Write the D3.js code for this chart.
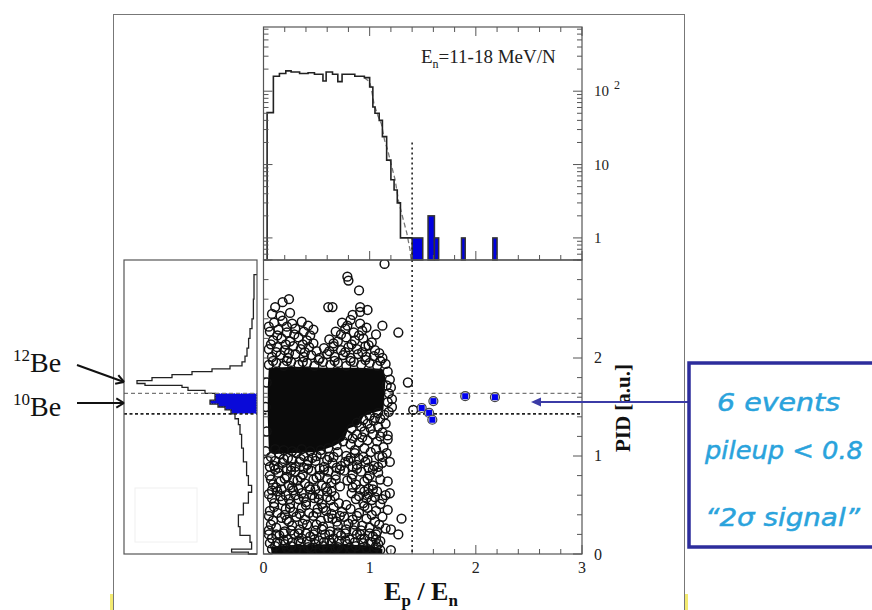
<!DOCTYPE html>
<html><head><meta charset="utf-8">
<script src="https://cdn.jsdelivr.net/npm/d3@7"></script>
<style>body{margin:0;background:#fff}svg{display:block}</style>
</head><body>
<svg id="c" width="872" height="610"></svg>
<script>
// ---------------- DATA ----------------
const topEdges  = [0.034,0.093,0.15,0.21,0.26,0.34,0.42,0.48,0.56,0.59,0.65,0.70,0.74,0.86,0.95,1.00,1.03,1.05,1.09,1.12,1.16,1.20,1.23,1.26,1.29,1.40];
const topCounts = [51,160,174,189,183,174,178,170,138,183,170,135,170,160,153,114,61,50,40,24,11.5,6.2,4.5,3,1];
const topDashX = [0.95,1.00,1.016,1.04,1.08,1.11,1.14,1.17,1.20,1.24,1.27,1.30,1.35,1.38,1.39];
const topDashC = [153,134,108,68,45,36,21.5,15.7,10.4,6.2,3.3,2.2,1.16,0.69,0.5];
const blueX0 = [1.40,1.55,1.61,1.865,2.16];
const blueX1 = [1.50,1.61,1.65,1.90,2.20];
const blueC  = [1,2,1,1,1];

const leftEdges  = [0,0.02,0.05,0.12,0.19,0.28,0.40,0.52,0.63,0.70,0.80,0.94,1.08,1.22,1.32,1.38,1.43,1.47,1.50,1.53,1.57,1.61,1.64,1.67,1.70,1.72,1.74,1.77,1.80,1.83,1.86,1.89,1.92,1.96,2.02,2.10,2.20,2.30,2.40,2.60,2.85];
const leftCounts = [43,127,27,35,85,93,68,43,27,43,52,68,77,85,93,110,130,160,195,235,210,210,260,345,375,560,600,525,425,325,225,135,75,60,50,42,35,25,18,15];
const gateLow = 1.43, gateHigh = 1.64, cutEpEn = 1.40;

const coreBand = [[0.05,1.9],[0.3,1.91],[0.6,1.9],[0.9,1.9],[1.12,1.89],[1.15,1.8],[1.14,1.62],[1.13,1.47],[1.02,1.44],[0.94,1.4],[0.9,1.32],[0.8,1.28],[0.76,1.16],[0.66,1.1],[0.5,1.04],[0.3,1.03],[0.1,1.02],[0.05,1.05],[0.04,1.4],[0.04,1.7]];
const bottomBand = [[0.08,-0.05],[1.12,-0.05],[1.12,0.05],[1.0,0.09],[0.6,0.1],[0.2,0.09],[0.07,0.07]];
const lowCloud = [
[0.08,0.05],[0.16,0.04],[0.22,0.06],[0.31,0.05],[0.38,0.03],[0.45,0.06],[0.53,0.04],[0.6,0.05],[0.68,0.06],[0.74,0.04],[0.83,0.05],[0.9,0.03],[0.97,0.06],[1.04,0.05],[1.1,0.04],
[0.06,0.11],[0.13,0.12],[0.2,0.1],[0.27,0.12],[0.35,0.11],[0.41,0.13],[0.49,0.1],[0.57,0.12],[0.64,0.11],[0.71,0.13],[0.79,0.1],[0.86,0.12],[0.94,0.11],[1.01,0.12],[1.08,0.1],
[0.08,0.16],[0.15,0.19],[0.23,0.15],[0.29,0.2],[0.36,0.16],[0.44,0.18],[0.52,0.14],[0.58,0.2],[0.66,0.16],[0.73,0.19],[0.81,0.15],[0.88,0.2],[0.95,0.16],[1.03,0.18],[1.1,0.13],
[0.05,0.24],[0.12,0.27],[0.2,0.23],[0.27,0.29],[0.34,0.25],[0.41,0.3],[0.49,0.24],[0.56,0.28],[0.63,0.23],[0.7,0.29],[0.78,0.25],[0.86,0.3],[0.92,0.24],[1.0,0.27],[1.07,0.23],[1.15,0.26],
[0.09,0.34],[0.17,0.37],[0.24,0.33],[0.31,0.38],[0.39,0.35],[0.47,0.39],[0.54,0.34],[0.61,0.37],[0.69,0.33],[0.76,0.38],[0.84,0.35],[0.97,0.36],[1.05,0.33],[1.12,0.38],
[0.06,0.44],[0.13,0.42],[0.21,0.46],[0.28,0.43],[0.36,0.47],[0.43,0.42],[0.51,0.46],[0.59,0.44],[0.66,0.48],[0.74,0.43],[0.82,0.46],[0.9,0.42],[0.98,0.47],[1.06,0.44],[1.17,0.45],
[0.1,0.52],[0.18,0.55],[0.25,0.51],[0.33,0.56],[0.4,0.53],[0.48,0.57],[0.55,0.51],[0.63,0.55],[0.71,0.52],[0.87,0.56],[0.94,0.52],[1.02,0.55],[1.1,0.51],
[0.05,0.61],[0.13,0.64],[0.21,0.6],[0.28,0.65],[0.36,0.62],[0.44,0.66],[0.52,0.61],[0.6,0.64],[0.83,0.62],[0.91,0.66],[0.99,0.61],[1.07,0.64],[1.15,0.6],
[0.09,0.71],[0.16,0.74],[0.24,0.7],[0.32,0.75],[0.39,0.72],[0.47,0.76],[0.55,0.7],[0.64,0.73],[0.72,0.69],[0.79,0.75],[0.87,0.71],[0.95,0.74],[1.03,0.7],[1.1,0.76],
[0.06,0.8],[0.14,0.83],[0.22,0.79],[0.3,0.84],[0.37,0.81],[0.45,0.85],[0.53,0.8],[0.61,0.84],[0.68,0.8],[0.76,0.85],[0.84,0.81],[0.92,0.84],[1.0,0.8],[1.08,0.83],
[0.1,0.9],[0.18,0.93],[0.26,0.89],[0.34,0.94],[0.41,0.91],[0.49,0.95],[0.57,0.89],[0.65,0.93],[0.73,0.9],[0.8,0.95],[0.88,0.91],[0.96,0.94],[1.04,0.9],[1.12,0.93],
[0.07,0.99],[0.15,1.02],[0.23,0.98],[0.31,1.03],[0.38,1.0],[0.46,0.98],[0.54,1.02],[0.62,0.99],[0.7,1.04],[0.78,1.0],[0.86,1.03],[0.94,0.99],[1.01,1.04],[1.09,1.0],[1.16,1.03]
];
const lowFill = [
[0.12,0.2],[0.26,0.24],[0.4,0.21],[0.55,0.25],[0.7,0.22],[0.85,0.24],[1.0,0.21],
[0.07,0.3],[0.22,0.35],[0.37,0.31],[0.5,0.3],[0.65,0.36],[0.8,0.31],[0.93,0.29],[1.09,0.3],
[0.1,0.48],[0.25,0.47],[0.4,0.5],[0.56,0.47],[0.78,0.5],[0.95,0.49],
[0.08,0.57],[0.3,0.6],[0.46,0.6],[0.67,0.59],[1.05,0.58],
[0.12,0.68],[0.27,0.68],[0.43,0.69],[0.59,0.68],[0.84,0.68],[0.99,0.67],
[0.11,0.86],[0.26,0.85],[0.42,0.87],[0.57,0.86],[0.72,0.86],[0.88,0.87],[1.03,0.86],
[0.11,0.95],[0.27,0.96],[0.42,0.95],[0.6,0.96],[0.77,0.94],[0.9,0.97]
];
const lowFill2 = [
[0.11,0.08],[0.26,0.08],[0.42,0.07],[0.56,0.08],[0.7,0.07],[0.87,0.08],[1.06,0.08],
[0.19,0.14],[0.33,0.14],[0.48,0.15],[0.62,0.14],[0.77,0.14],[0.92,0.15],[1.06,0.15],
[0.05,0.2],[0.19,0.21],[0.33,0.21],[0.47,0.2],[0.62,0.2],[0.77,0.21],[0.91,0.2],[1.06,0.2],
[0.05,0.39],[0.2,0.4],[0.34,0.41],[0.5,0.42],[0.64,0.41],[0.72,0.39],[0.88,0.39],[1.02,0.4],
[0.16,0.59],[0.24,0.56],[0.38,0.57],[0.52,0.56],[0.6,0.58],[0.9,0.59],[0.97,0.57],[1.12,0.56],
[0.08,0.65],[0.17,0.66],[0.33,0.67],[0.49,0.66],[0.64,0.64],[0.95,0.64],[1.03,0.66],
[0.07,0.76],[0.2,0.77],[0.28,0.75],[0.35,0.78],[0.5,0.78],[0.6,0.77],[0.68,0.76],[0.83,0.77],[0.98,0.77],
[0.06,0.89],[0.14,0.88],[0.22,0.87],[0.3,0.89],[0.38,0.88],[0.53,0.87],[0.69,0.88],[0.84,0.89],[0.99,0.88],[1.08,0.89],
[0.04,0.95],[0.19,0.97],[0.35,0.97],[0.5,1.0],[0.66,0.99],[0.82,0.98],[0.98,0.96],[1.12,0.99]
];
const midEdge = [[1.17,1.86],[1.19,1.78],[1.16,1.72],[1.2,1.7],[1.18,1.64],[1.21,1.58],[1.17,1.55],[1.21,1.5],[1.18,1.45],[1.14,1.42],[1.1,1.38],[1.04,1.36],[1.15,1.33],[1.08,1.3],[0.98,1.33],[0.92,1.3],[1.12,1.24],[1.03,1.22],[0.95,1.25],[0.88,1.22],[1.17,1.17],[1.07,1.15],[0.98,1.16],[0.9,1.14],[0.82,1.12],[1.13,1.09],[0.86,1.06],[0.95,1.08],[1.06,1.07],[0.02,1.5],[0.03,1.25],[0.03,1.75],[0.02,1.05],
[1.08,1.44],[1.0,1.41],[0.94,1.37],[0.88,1.34],[0.83,1.28],[0.79,1.21],[0.75,1.15],[0.69,1.11],[0.61,1.08],[0.54,1.06],[0.44,1.05],[0.36,1.07],[0.27,1.05],[0.19,1.06],[0.11,1.07],[0.84,1.18],[0.93,1.19],[1.01,1.28],[1.1,1.2],[1.05,1.39]];
const topCloud = [
[0.05,1.93],[0.12,1.95],[0.19,1.92],[0.26,1.96],[0.33,1.93],[0.41,1.95],[0.48,1.92],[0.56,1.96],[0.63,1.93],[0.7,1.95],[0.78,1.92],[0.85,1.96],[0.92,1.93],[1.0,1.95],[1.07,1.92],[1.15,1.94],
[0.08,2.01],[0.16,2.03],[0.23,2.0],[0.3,2.04],[0.38,2.01],[0.45,2.03],[0.53,2.0],[0.6,2.04],[0.67,2.01],[0.75,2.03],[0.82,2.0],[0.89,2.04],[0.97,2.01],[1.04,2.02],[1.12,2.0],
[0.05,2.09],[0.13,2.11],[0.2,2.08],[0.28,2.12],[0.35,2.09],[0.43,2.11],[0.57,2.1],[0.66,2.12],[0.73,2.08],[0.8,2.11],[0.88,2.09],[0.96,2.12],[1.05,2.08],
[0.09,2.18],[0.17,2.2],[0.25,2.17],[0.33,2.21],[0.41,2.18],[0.62,2.19],[0.7,2.17],[0.78,2.21],[0.86,2.18],[0.94,2.2],[1.02,2.16],
[0.06,2.27],[0.14,2.29],[0.22,2.26],[0.3,2.3],[0.38,2.27],[0.47,2.29],[0.68,2.27],[0.77,2.3],[0.85,2.26],[0.93,2.28],[1.12,2.33],
[0.1,2.36],[0.18,2.38],[0.27,2.35],[0.36,2.37],[0.74,2.36],[0.82,2.39],[0.91,2.35],
[0.08,2.45],[0.16,2.43],[0.25,2.46],[0.84,2.44],[0.91,2.47]
];
const topFill = [
[0.09,1.97],[0.22,1.97],[0.37,1.96],[0.52,1.98],[0.67,1.97],[0.82,1.97],[0.96,1.98],[1.1,1.97],
[0.12,2.06],[0.24,2.05],[0.39,2.06],[0.5,2.07],[0.62,2.07],[0.77,2.06],[0.93,2.06],[1.09,2.05],
[0.07,2.14],[0.21,2.14],[0.37,2.14],[0.47,2.15],[0.66,2.15],[0.83,2.14],[0.99,2.13],
[0.13,2.23],[0.29,2.24],[0.44,2.23],[0.73,2.24],[0.9,2.23],[1.06,2.24],
[0.05,2.32],[0.22,2.32],[0.42,2.33],[0.79,2.33],[0.97,2.31]
];
const outliers = [[1.14,2.96],[0.79,2.83],[0.8,2.79],[0.9,2.69],[0.11,2.52],[0.18,2.57],[0.24,2.6],[0.61,2.52],[0.65,2.52],[0.91,2.52],[0.98,2.49],[1.27,2.26],[1.36,1.75],[1.41,1.47],[1.2,0.04],[1.2,0.25],[1.27,0.2],[1.3,0.36],[1.19,0.62],[1.17,0.74],[1.19,0.94],[1.17,1.21]];
const sigX   = [1.49,1.56,1.59,1.60,1.90,2.18];
const sigPID = [1.49,1.44,1.37,1.56,1.61,1.60];

// ---------------- DRAW ----------------
const svg = d3.select("#c");
const serif = "'Liberation Serif','Times New Roman',serif";

svg.append("line").attr("x1",113.5).attr("x2",113.5).attr("y1",14).attr("y2",610).attr("stroke","#777");
svg.append("line").attr("x1",684.5).attr("x2",684.5).attr("y1",14).attr("y2",610).attr("stroke","#777");
svg.append("line").attr("x1",113.5).attr("x2",684.5).attr("y1",14.5).attr("y2",14.5).attr("stroke","#777");
svg.append("rect").attr("x",110).attr("y",594).attr("width",3).attr("height",16).attr("fill","#f3ea70");
svg.append("rect").attr("x",685).attr("y",594).attr("width",3).attr("height",16).attr("fill","#f3ea70");

const x  = d3.scaleLinear().domain([0,3]).range([263.5,582]);
const yP = d3.scaleLinear().domain([0,3]).range([554,260]);
const yT = d3.scaleLog().domain([0.5,750]).range([260,27]);
const xL = d3.scaleLinear().domain([0,665]).range([257,124]);
const frameCol = "#555";

// ---------- top histogram ----------
const gT = svg.append("g");
gT.append("defs").append("clipPath").attr("id","clipT").append("rect")
  .attr("x",x(0)).attr("y",27).attr("width",x(3)-x(0)).attr("height",233);
const stepPts = [[topEdges[0],0.5]];
topCounts.forEach((c,i)=>{stepPts.push([topEdges[i],c]); stepPts.push([topEdges[i+1],c]);});
const lineT = d3.line().x(d=>x(d[0])).y(d=>yT(d[1]));
gT.append("path").attr("d",lineT(topDashX.map((v,i)=>[v,topDashC[i]])))
  .attr("fill","none").attr("stroke","#777").attr("stroke-width",1.3).attr("stroke-dasharray","5,3")
  .attr("clip-path","url(#clipT)");
gT.append("path").attr("d",lineT(stepPts)).attr("fill","none").attr("stroke","#222").attr("stroke-width",1.6)
  .attr("clip-path","url(#clipT)");
blueX0.forEach((v,i)=>{
  gT.append("rect").attr("x",x(v)).attr("y",yT(blueC[i])).attr("width",x(blueX1[i])-x(v))
    .attr("height",yT(0.5)-yT(blueC[i])).attr("fill","#0000e0").attr("stroke","#333").attr("stroke-width",1.5);
});
gT.append("line").attr("x1",x(cutEpEn)).attr("x2",x(cutEpEn)).attr("y1",yT(20)).attr("y2",260)
  .attr("stroke","#222").attr("stroke-width",1.6).attr("stroke-dasharray","2,3");
gT.append("rect").attr("x",x(0)).attr("y",27).attr("width",x(3)-x(0)).attr("height",233)
  .attr("fill","none").attr("stroke",frameCol).attr("stroke-width",1.2);
const xTickVals = d3.range(0,3.001,0.2);
function xTicks(yLine,dir){
  xTickVals.forEach(v=>{
    const major = Math.abs(v-Math.round(v))<1e-6;
    svg.append("line").attr("x1",x(v)).attr("x2",x(v)).attr("y1",yLine).attr("y2",yLine+dir*(major?9:5))
      .attr("stroke",frameCol).attr("stroke-width",1);
  });
}
xTicks(27,1); xTicks(260,-1); xTicks(554,-1);
const logVals = [];
[-1,0,1,2].forEach(e=>d3.range(1,10).forEach(k=>{const v=k*Math.pow(10,e); if(v>=0.5&&v<=750) logVals.push([v,k===1]);}));
logVals.forEach(([v,maj])=>{
  const yy=yT(v);
  svg.append("line").attr("x1",x(0)).attr("x2",x(0)+(maj?9:5)).attr("y1",yy).attr("y2",yy).attr("stroke",frameCol);
  svg.append("line").attr("x1",x(3)).attr("x2",x(3)-(maj?9:5)).attr("y1",yy).attr("y2",yy).attr("stroke",frameCol);
});
[[1,"1"],[10,"10"]].forEach(([v,t])=>{
  svg.append("text").attr("x",594).attr("y",yT(v)+5).attr("font-family",serif).attr("font-size",15).attr("fill","#222").text(t);
});
const t100 = svg.append("text").attr("x",594).attr("y",yT(100)+5).attr("font-family",serif).attr("font-size",15).attr("fill","#222");
t100.append("tspan").text("10");
t100.append("tspan").attr("dx",5).attr("dy",-7).attr("font-size",12).text("2");
const lab = svg.append("text").attr("x",421).attr("y",63).attr("font-family",serif).attr("font-size",19).attr("fill","#222");
lab.append("tspan").text("E");
lab.append("tspan").attr("dy",5).attr("font-size",12).text("n");
lab.append("tspan").attr("dy",-5).text("=11-18 MeV/N");

// ---------- left projection ----------
const gL = svg.append("g");
const blueSeg = [];
leftCounts.forEach((c,i)=>{
  const a=leftEdges[i], b=leftEdges[i+1];
  if(a>=gateLow-1e-9 && b<=gateHigh+1e-9){blueSeg.push([c,a]);blueSeg.push([c,b]);}
});
const bluePoly = [[0,gateLow]].concat(blueSeg).concat([[0,gateHigh]]);
gL.append("path").attr("d",d3.line().x(d=>xL(d[0])).y(d=>yP(d[1]))(bluePoly)+"Z")
  .attr("fill","#0a0ad8").attr("stroke","#fff").attr("stroke-width",1).attr("stroke-dasharray","1,1.5");
const lpts=[[0,leftEdges[0]]];
leftCounts.forEach((c,i)=>{lpts.push([c,leftEdges[i]]);lpts.push([c,leftEdges[i+1]]);});
lpts.push([0,leftEdges[leftEdges.length-1]]);
gL.append("path").attr("d",d3.line().x(d=>xL(d[0])).y(d=>yP(d[1]))(lpts))
  .attr("fill","none").attr("stroke","#222").attr("stroke-width",1.3);
gL.append("line").attr("x1",124).attr("x2",257).attr("y1",yP(gateHigh)).attr("y2",yP(gateHigh))
  .attr("stroke","#777").attr("stroke-width",1.3).attr("stroke-dasharray","4,3");
gL.append("line").attr("x1",124).attr("x2",257).attr("y1",yP(gateLow)).attr("y2",yP(gateLow))
  .attr("stroke","#222").attr("stroke-width",1.8).attr("stroke-dasharray","3,2.5");
gL.append("rect").attr("x",135).attr("y",488).attr("width",62).attr("height",54).attr("fill","none").attr("stroke","#f0f0f0");
gL.append("rect").attr("x",124).attr("y",260).attr("width",133).attr("height",294)
  .attr("fill","none").attr("stroke",frameCol).attr("stroke-width",1.2);

function iso(mass,yb){
  const t=svg.append("text").attr("x",13).attr("y",yb).attr("font-family",serif).attr("font-size",28).attr("fill","#111");
  t.append("tspan").attr("font-size",17).attr("dy",-11).text(mass);
  t.append("tspan").attr("dy",11).text("Be");
}
iso("12",372); iso("10",416);
function arrow(x1,y1,x2,y2){
  svg.append("line").attr("x1",x1).attr("y1",y1).attr("x2",x2).attr("y2",y2).attr("stroke","#111").attr("stroke-width",2);
  const a=Math.atan2(y2-y1,x2-x1), L=9;
  [a+2.6,a-2.6].forEach(b=>svg.append("line").attr("x1",x2).attr("y1",y2)
    .attr("x2",x2+L*Math.cos(b)).attr("y2",y2+L*Math.sin(b)).attr("stroke","#111").attr("stroke-width",2));
}
arrow(77,365,124,382); arrow(77,403,124,403);

// ---------- scatter ----------
const gS = svg.append("g");
gS.append("defs").append("clipPath").attr("id","clipS").append("rect")
  .attr("x",x(0)).attr("y",260).attr("width",x(3)-x(0)).attr("height",294);
const gC = gS.append("g").attr("clip-path","url(#clipS)");
gC.append("line").attr("x1",x(0)).attr("x2",x(3)).attr("y1",yP(gateHigh)).attr("y2",yP(gateHigh))
  .attr("stroke","#777").attr("stroke-width",1.3).attr("stroke-dasharray","4,3");
gC.append("line").attr("x1",x(0)).attr("x2",x(3)).attr("y1",yP(gateLow)).attr("y2",yP(gateLow))
  .attr("stroke","#222").attr("stroke-width",1.8).attr("stroke-dasharray","3,2.5");
gC.append("line").attr("x1",x(cutEpEn)).attr("x2",x(cutEpEn)).attr("y1",260).attr("y2",554)
  .attr("stroke","#222").attr("stroke-width",1.6).attr("stroke-dasharray","2,3");
const poly = d3.line().x(d=>x(d[0])).y(d=>yP(d[1]));
[coreBand,bottomBand].forEach(p=>gC.append("path").attr("d",poly(p)+"Z").attr("fill","#0a0a0a"));
const allPts = lowCloud.concat(lowFill,lowFill2,midEdge,topCloud,topFill,outliers);
gC.selectAll("circle.ev").data(allPts).join("circle").attr("class","ev")
  .attr("cx",d=>x(d[0])).attr("cy",d=>yP(d[1])).attr("r",4.4)
  .attr("fill","none").attr("stroke","#111").attr("stroke-width",1.5);
sigX.forEach((v,i)=>{
  gC.append("circle").attr("cx",x(v)).attr("cy",yP(sigPID[i])).attr("r",4.5).attr("fill","#ddd")
    .attr("stroke","#444").attr("stroke-width",1.2);
  gC.append("rect").attr("x",x(v)-3).attr("y",yP(sigPID[i])-3).attr("width",6).attr("height",6).attr("fill","#0000f0");
});
gS.append("rect").attr("x",x(0)).attr("y",260).attr("width",x(3)-x(0)).attr("height",294)
  .attr("fill","none").attr("stroke",frameCol).attr("stroke-width",1.2);
d3.range(0,3.001,0.2).forEach(v=>{
  const major=Math.abs(v-Math.round(v))<1e-6, yy=yP(v);
  svg.append("line").attr("x1",x(0)).attr("x2",x(0)+(major?9:5)).attr("y1",yy).attr("y2",yy).attr("stroke",frameCol);
  svg.append("line").attr("x1",x(3)).attr("x2",x(3)-(major?9:5)).attr("y1",yy).attr("y2",yy).attr("stroke",frameCol);
});
[0,1,2,3].forEach(v=>svg.append("text").attr("x",x(v)).attr("y",573).attr("text-anchor","middle")
  .attr("font-family",serif).attr("font-size",16).attr("fill","#222").text(v));
[0,1,2].forEach(v=>svg.append("text").attr("x",594).attr("y",yP(v)+(v===0?6:5)).attr("font-family",serif)
  .attr("font-size",16).attr("fill","#222").text(v));
const xt = svg.append("text").attr("x",421).attr("y",600).attr("text-anchor","middle").attr("font-family",serif)
  .attr("font-size",26).attr("font-weight","bold").attr("fill","#111");
xt.append("tspan").text("E"); xt.append("tspan").attr("dy",6).attr("font-size",17).text("p");
xt.append("tspan").attr("dy",-6).text(" / E"); xt.append("tspan").attr("dy",6).attr("font-size",17).text("n");
svg.append("text").attr("transform","translate(630,408) rotate(-90)").attr("text-anchor","middle")
  .attr("font-family",serif).attr("font-size",21).attr("font-weight","bold").attr("fill","#111").text("PID [a.u.]");

// ---------- annotation box ----------
const boxCol="#2d2d9c";
svg.append("line").attr("x1",689).attr("x2",540).attr("y1",402).attr("y2",402).attr("stroke","#3b3ba6").attr("stroke-width",2.2);
svg.append("path").attr("d","M531,402 L541,397.5 L541,406.5 Z").attr("fill","#3b3ba6");
svg.append("rect").attr("x",689).attr("y",363).attr("width",200).attr("height",184)
  .attr("fill","none").attr("stroke",boxCol).attr("stroke-width",3.5);
const note=[["6 events",717,411,123],["pileup < 0.8",705,459,158],["\u201c2\u03c3 signal\u201d",705,526,155]];
note.forEach(([t,xx,yy,w])=>svg.append("text").attr("x",xx).attr("y",yy).attr("font-family","'DejaVu Sans',sans-serif")
  .attr("font-style","italic").attr("font-size",25).attr("fill","#2aa3dc").attr("stroke","#2aa3dc").attr("stroke-width",0.5)
  .attr("textLength",w).attr("lengthAdjust","spacingAndGlyphs").text(t));
</script>
</body></html>
